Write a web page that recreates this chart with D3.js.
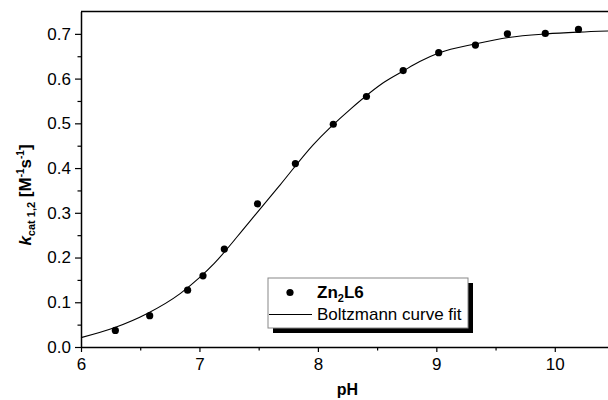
<!DOCTYPE html>
<html>
<head>
<meta charset="utf-8">
<script src="https://cdn.jsdelivr.net/npm/d3@7"></script>
<style>
  body { margin: 0; background: #fff; }
  svg text { font-family: "Liberation Sans", Arial, sans-serif; fill: #000; }
</style>
</head>
<body>
<div id="chart"></div>
<script>
// measured points
var phValues = [6.29, 6.58, 6.90, 7.03, 7.21, 7.49, 7.81, 8.13, 8.41, 8.72, 9.02, 9.33, 9.60, 9.92, 10.20];
var kcatValues = [0.037, 0.070, 0.127, 0.159, 0.219, 0.320, 0.410, 0.498, 0.560, 0.618, 0.658, 0.675, 0.700, 0.701, 0.710];

// fit curve
var fitPh = [6.0, 6.28, 6.56, 6.84, 7.0, 7.125, 7.41, 7.68, 7.96, 8.28, 8.565, 8.72, 8.86, 9.02, 9.336, 9.61, 9.93, 10.2, 10.5];
var fitK  = [0.021, 0.043, 0.075, 0.120, 0.155, 0.187, 0.276, 0.362, 0.452, 0.533, 0.593, 0.617, 0.638, 0.657, 0.678, 0.692, 0.700, 0.704, 0.707];

var xTicks = [6, 7, 8, 9, 10];
var xMinorTicks = [6.5, 7.5, 8.5, 9.5];
var yTicks = [0, 0.1, 0.2, 0.3, 0.4, 0.5, 0.6, 0.7];
var yMinorTicks = [0.05, 0.15, 0.25, 0.35, 0.45, 0.55, 0.65];

var width = 608, height = 400;
var marginLeft = 81, marginTop = 11.5, plotRight = 614, plotBottom = 347;

var svg = d3.select("#chart").append("svg")
    .attr("width", width)
    .attr("height", height);

var x = d3.scaleLinear().domain([6, 10.5]).range([marginLeft, plotRight]);
var y = d3.scaleLinear().domain([0, 0.75]).range([plotBottom, marginTop]);

// top frame line
svg.append("line")
    .attr("x1", marginLeft).attr("x2", plotRight)
    .attr("y1", marginTop).attr("y2", marginTop)
    .attr("stroke", "#000").attr("stroke-width", 1.5);

// x axis
var xAxis = svg.append("g")
    .attr("transform", "translate(0," + plotBottom + ")")
    .call(d3.axisBottom(x).tickValues(xTicks).tickFormat(d3.format("d")).tickSize(5).tickPadding(6).tickSizeOuter(0));
svg.append("g")
    .attr("transform", "translate(0," + plotBottom + ")")
    .call(d3.axisBottom(x).tickValues(xMinorTicks).tickFormat("").tickSize(3.5).tickSizeOuter(0))
    .select(".domain").remove();

// y axis
var yAxis = svg.append("g")
    .attr("transform", "translate(" + marginLeft + ",0)")
    .call(d3.axisLeft(y).tickValues(yTicks).tickFormat(d3.format(".1f")).tickSize(6).tickPadding(4).tickSizeOuter(0));
svg.append("g")
    .attr("transform", "translate(" + marginLeft + ",0)")
    .call(d3.axisLeft(y).tickValues(yMinorTicks).tickFormat("").tickSize(3.5).tickSizeOuter(0))
    .select(".domain").remove();

svg.selectAll(".domain").attr("stroke-width", 1.5);
svg.selectAll(".tick line").attr("stroke-width", 1.2);
svg.selectAll(".tick text")
    .style("font-size", "17px")
    .style("font-family", "'Liberation Sans', Arial, sans-serif");

// fit curve
var fitData = fitPh.map(function(p, i) { return [p, fitK[i]]; });
svg.append("path")
    .datum(fitData)
    .attr("fill", "none")
    .attr("stroke", "#000")
    .attr("stroke-width", 1.1)
    .attr("d", d3.line()
        .x(function(d) { return x(d[0]); })
        .y(function(d) { return y(d[1]); })
        .curve(d3.curveMonotoneX));

// points
var points = phValues.map(function(p, i) { return {ph: p, k: kcatValues[i]}; });
svg.selectAll("circle.pt")
    .data(points)
    .enter()
    .append("circle")
    .attr("class", "pt")
    .attr("cx", function(d) { return x(d.ph); })
    .attr("cy", function(d) { return y(d.k); })
    .attr("r", 3.6)
    .attr("fill", "#000");

// axis titles
svg.append("text")
    .attr("x", (marginLeft + plotRight) / 2)
    .attr("y", 395)
    .attr("text-anchor", "middle")
    .style("font-size", "16px")
    .style("font-weight", "bold")
    .text("pH");

var yt = svg.append("text")
    .attr("transform", "translate(31,195) rotate(-90)")
    .attr("text-anchor", "middle")
    .style("font-size", "17px")
    .style("font-weight", "bold");
yt.append("tspan").style("font-style", "italic").text("k");
yt.append("tspan").attr("dy", 4).style("font-size", "11px").text("cat 1,2");
yt.append("tspan").attr("dy", -4).text(" [M");
yt.append("tspan").attr("dy", -7).style("font-size", "10px").text("-1");
yt.append("tspan").attr("dy", 7).text("s");
yt.append("tspan").attr("dy", -7).style("font-size", "10px").text("-1");
yt.append("tspan").attr("dy", 7).text("]");

// legend
var lg = svg.append("g").attr("transform", "translate(268,278)");
lg.append("rect")
    .attr("x", 5).attr("y", 5).attr("width", 200).attr("height", 50)
    .attr("fill", "#000");
lg.append("rect")
    .attr("x", 0).attr("y", 0).attr("width", 200).attr("height", 50)
    .attr("fill", "#fff").attr("stroke", "#888").attr("stroke-width", 1);
lg.append("circle").attr("cx", 22).attr("cy", 14.5).attr("r", 3.6).attr("fill", "#000");
var zt = lg.append("text").attr("x", 49).attr("y", 20)
    .style("font-size", "17px").style("font-weight", "bold");
zt.append("tspan").text("Zn");
zt.append("tspan").attr("dy", 4).style("font-size", "11px").text("2");
zt.append("tspan").attr("dy", -4).text("L6");
lg.append("line")
    .attr("x1", 1).attr("x2", 44).attr("y1", 36.5).attr("y2", 36.5)
    .attr("stroke", "#000").attr("stroke-width", 1);
lg.append("text").attr("x", 49).attr("y", 42)
    .style("font-size", "17px")
    .text("Boltzmann curve fit");
</script>
</body>
</html>
